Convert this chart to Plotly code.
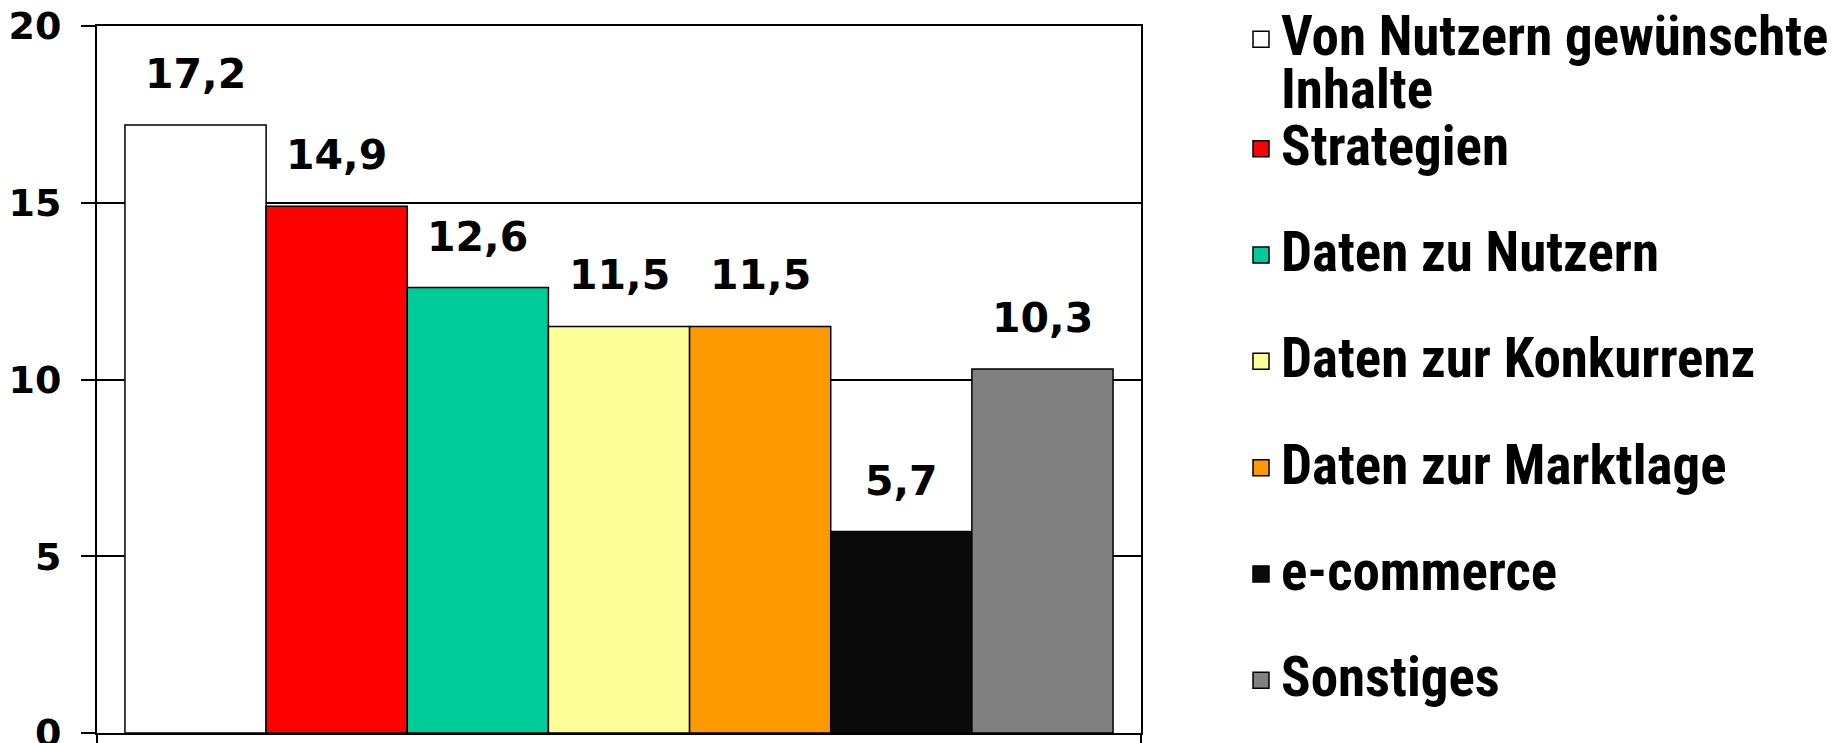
import plotly.graph_objects as go

categories = ["Von Nutzern gewünschte Inhalte", "Strategien", "Daten zu Nutzern",
              "Daten zur Konkurrenz", "Daten zur Marktlage", "e-commerce", "Sonstiges"]
legend_lines = [["Von Nutzern gewünschte", "Inhalte"], ["Strategien"], ["Daten zu Nutzern"],
                ["Daten zur Konkurrenz"], ["Daten zur Marktlage"], ["e-commerce"], ["Sonstiges"]]
values = [17.2, 14.9, 12.6, 11.5, 11.5, 5.7, 10.3]
colors = ["#FFFFFF", "#FF0000", "#00CC99", "#FFFF99", "#FF9900", "#0A0A0A", "#808080"]
legend_groups = ["g1", "g1", "g2", "g3", "g4", "g5", "g6"]
y_ticks = [0, 5, 10, 15, 20]

x_pos = list(range(len(categories)))

fig = go.Figure()
fig.add_trace(go.Bar(
    x=x_pos, y=values, width=1,
    marker=dict(color=colors, line=dict(color="black", width=1.5)),
    showlegend=False, hoverinfo="skip",
))

for name_lines, col, grp in zip(legend_lines, colors, legend_groups):
    name = "<br>".join(f'<span style="font-size:55px">{ln}</span>' for ln in name_lines)
    fig.add_trace(go.Scatter(
        x=[None], y=[None], mode="markers", name=name, legendgroup=grp,
        marker=dict(symbol="square", size=16, color=col, line=dict(color="black", width=1.5)),
    ))

for xv, v in zip(x_pos, values):
    fig.add_annotation(
        x=xv, y=v, xref="x", yref="y", text=f"{v:.1f}".replace(".", ","),
        showarrow=False, yanchor="bottom", yshift=25,
        font=dict(family="DejaVu Sans", size=41, color="black", weight="bold"),
    )

fig.update_layout(
    width=1847, height=743,
    margin=dict(l=97, r=706, t=26, b=10),
    paper_bgcolor="white", plot_bgcolor="white",
    barmode="overlay",
    showlegend=True,
    legend=dict(
        xref="container", yref="container", x=1241 / 1847, y=1 - 6 / 743,
        xanchor="left", yanchor="top", maxheight=743,
        font=dict(family="Roboto Condensed, sans-serif", size=41, color="black", weight="bold"),
        traceorder="grouped", tracegroupgap=50, valign="top",
        bgcolor="rgba(0,0,0,0)", borderwidth=0,
    ),
)
fig.update_xaxes(
    range=[-0.698, 6.698], tickvals=[-0.698, 6.698], showticklabels=False,
    ticks="outside", ticklen=10, tickwidth=2, tickcolor="black",
    showline=True, linecolor="black", linewidth=2, mirror=True,
    showgrid=False, zeroline=False, fixedrange=True, automargin=False,
)
fig.update_yaxes(
    range=[0, 20], tickvals=y_ticks, ticktext=[str(t) for t in y_ticks],
    ticks="outside", ticklen=14, tickwidth=2, tickcolor="black",
    ticklabelstandoff=12, ticklabeloverflow="allow", automargin=False,
    tickfont=dict(family="DejaVu Sans", size=38, color="black", weight="bold"),
    showline=True, linecolor="black", linewidth=2, mirror=True,
    showgrid=True, gridcolor="black", gridwidth=2, zeroline=False,
)

fig.write_html("out.html")
